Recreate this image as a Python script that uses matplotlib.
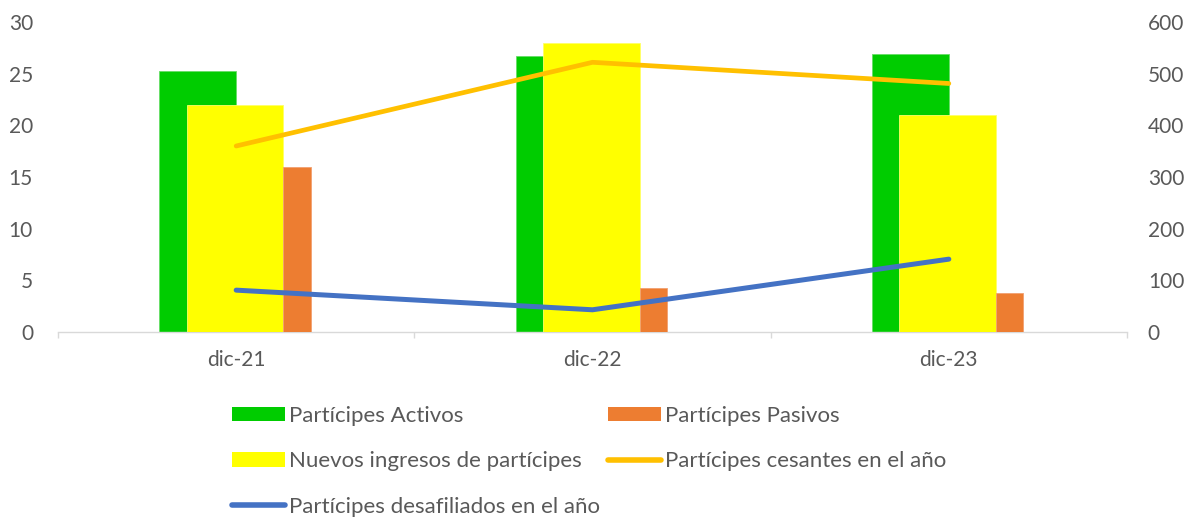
import numpy as np
import matplotlib
matplotlib.use("Agg")
import matplotlib.pyplot as plt
from matplotlib.lines import Line2D
from matplotlib.patches import Patch

# === Data ===
categories = ["dic-21", "dic-22", "dic-23"]
activos = [25.3, 26.7, 26.9]
nuevos = [22.0, 28.0, 21.0]
pasivos = [16.0, 4.3, 3.8]
cesantes = [360, 522, 481]
desafiliados = [81, 43, 141]

left_ticks = [0, 5, 10, 15, 20, 25, 30]
right_ticks = [0, 100, 200, 300, 400, 500, 600]

# === Style ===
plt.rcParams["font.family"] = ["Lato", "DejaVu Sans"]
txt_color = "#595959"
green = "#00CC00"
yellow = "#FFFF00"
orange = "#ED7D31"
gold = "#FFC000"
blue = "#4472C4"
fs = 15

fig = plt.figure(figsize=(11.95, 5.18), dpi=100)
ax = fig.add_axes([58 / 1195, 1 - 332 / 518, (1127 - 58) / 1195, 310 / 518])
ax2 = ax.twinx()

x = np.arange(len(categories))

# === Bars (primary axis) ===
ax.bar(x - 0.216, activos, width=0.216, align="edge", color=green,
       edgecolor="#66DD66", linewidth=0.6, zorder=2)
ax.bar(x - 0.139, nuevos, width=0.271, align="edge", color=yellow,
       edgecolor="#FFFF66", linewidth=0.6, zorder=3)
ax.bar(x + 0.132, pasivos, width=0.077, align="edge", color=orange,
       edgecolor="#F2A070", linewidth=0.6, zorder=3)

# === Lines (secondary axis) ===
ax2.plot(x, cesantes, color=gold, lw=3.4, solid_capstyle="round",
         solid_joinstyle="round")
ax2.plot(x, desafiliados, color=blue, lw=3.6, solid_capstyle="round",
         solid_joinstyle="round")

# === Axes ===
ax.set_xlim(-0.5, 2.5)
ax.set_ylim(0, 30)
ax2.set_ylim(0, 600)
ax.set_yticks(left_ticks)
ax2.set_yticks(right_ticks)
ax.set_xticks(x)
ax.set_xticklabels(categories)
ax.set_xticks([-0.5, 0.5, 1.5, 2.5], minor=True)

for a in (ax, ax2):
    for s in a.spines.values():
        s.set_visible(False)
ax.spines["bottom"].set_visible(True)
ax.spines["bottom"].set_color("#D9D9D9")
ax.spines["bottom"].set_linewidth(1.0)

ax.tick_params(axis="y", length=0, pad=18, labelsize=fs, labelcolor=txt_color)
ax2.tick_params(axis="y", length=0, pad=15, labelsize=fs, labelcolor=txt_color)
ax.tick_params(axis="x", which="major", length=0, pad=13, labelsize=fs,
               labelcolor=txt_color)
ax.tick_params(axis="x", which="minor", length=4.5, width=1.0, color="#D9D9D9")

# === Legend ===
handles = [
    Patch(facecolor=green, edgecolor="none"),
    Patch(facecolor=yellow, edgecolor="none"),
    Line2D([], [], color=blue, lw=4.0, solid_capstyle="round"),
    Patch(facecolor=orange, edgecolor="none"),
    Line2D([], [], color=gold, lw=4.0, solid_capstyle="round"),
]
labels = [
    "Partícipes Activos",
    "Nuevos ingresos de partícipes",
    "Partícipes desafiliados en el año",
    "Partícipes Pasivos",
    "Partícipes cesantes en el año",
]
fig.legend(handles, labels, ncol=2, frameon=False, loc="upper left",
           bbox_to_anchor=(232 / 1195, 1 - 406 / 518), borderpad=0,
           borderaxespad=0, handlelength=2.39, handleheight=0.63,
           handletextpad=0.18, columnspacing=0.36, labelspacing=1.14,
           fontsize=16, labelcolor=txt_color)

fig.savefig("out.png", dpi=100)
